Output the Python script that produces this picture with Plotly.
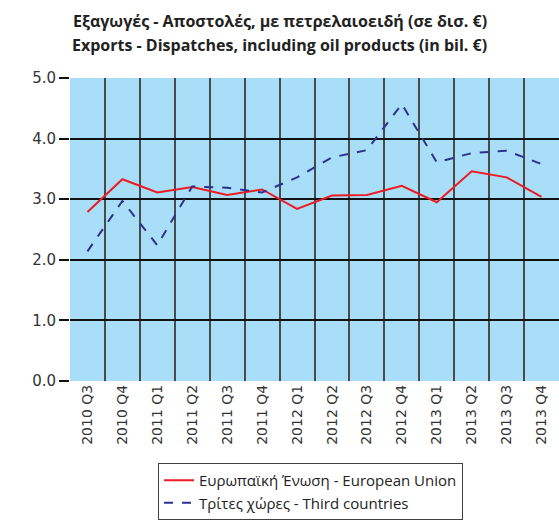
import plotly.graph_objects as go

quarters = ["2010 Q3", "2010 Q4", "2011 Q1", "2011 Q2", "2011 Q3", "2011 Q4",
            "2012 Q1", "2012 Q2", "2012 Q3", "2012 Q4", "2013 Q1", "2013 Q2",
            "2013 Q3", "2013 Q4"]
eu = [2.79, 3.33, 3.11, 3.20, 3.07, 3.16, 2.84, 3.06, 3.07, 3.22, 2.95, 3.46, 3.36, 3.04]
third = [2.14, 2.97, 2.24, 3.21, 3.19, 3.11, 3.36, 3.69, 3.81, 4.57, 3.61, 3.76, 3.80, 3.58]
y_ticks = [0, 1, 2, 3, 4, 5]
title_lines = ["Εξαγωγές - Αποστολές, με πετρελαιοειδή (σε δισ. €)",
               "Exports - Dispatches, including oil products (in bil. €)"]

fig = go.Figure()
fig.add_trace(go.Scatter(
    x=quarters, y=eu, mode="lines",
    name="Ευρωπαϊκή Ένωση - European Union",
    line=dict(color="#ED1C24", width=2),
))
fig.add_trace(go.Scatter(
    x=quarters, y=third, mode="lines",
    name="Τρίτες χώρες - Third countries",
    line=dict(color="#2E3192", width=2, dash="dash"),
))

# two-line heading, centred on the page
for i, line in enumerate(title_lines):
    fig.add_annotation(
        text=f"<b>{line}</b>",
        xref="paper", yref="paper",
        x=(279.5 - 70) / 489, y=(381 - (21 + 24 * i)) / 303,
        xanchor="center", yanchor="middle",
        showarrow=False,
        font=dict(family="Open Sans", size=16, color="#222222"),
    )

fig.update_layout(
    width=559, height=521,
    margin=dict(l=70, r=0, t=78, b=140, autoexpand=False),
    paper_bgcolor="white",
    plot_bgcolor="#A9DEF8",
    xaxis=dict(
        type="category",
        range=[-0.5, 13.5],
        tickson="boundaries",
        showgrid=True, gridcolor="#4A4A4A", gridwidth=2,
        tickangle=-90,
        ticks="",
        automargin=False,
        tickfont=dict(family="DejaVu Sans", size=14, color="#333333"),
        showline=False,
        zeroline=False,
    ),
    yaxis=dict(
        range=[0, 5],
        tickvals=y_ticks,
        tickformat=".1f",
        automargin=False,
        showgrid=True, gridcolor="#111111", gridwidth=1.5,
        ticks="outside", ticklen=10, tickcolor="#111111", tickwidth=1.5,
        tickfont=dict(family="DejaVu Sans", size=15, color="#333333"),
        showline=False,
        zeroline=False,
    ),
    showlegend=True,
    legend=dict(
        x=(158 - 70) / 489, xanchor="left",
        y=(381 - 520) / 303, yanchor="bottom",
        bgcolor="white",
        bordercolor="#404040", borderwidth=1,
        font=dict(family="Open Sans", size=15, color="#222222"),
        tracegroupgap=0,
        itemwidth=30,
    ),
)

fig.write_html("out.html")
